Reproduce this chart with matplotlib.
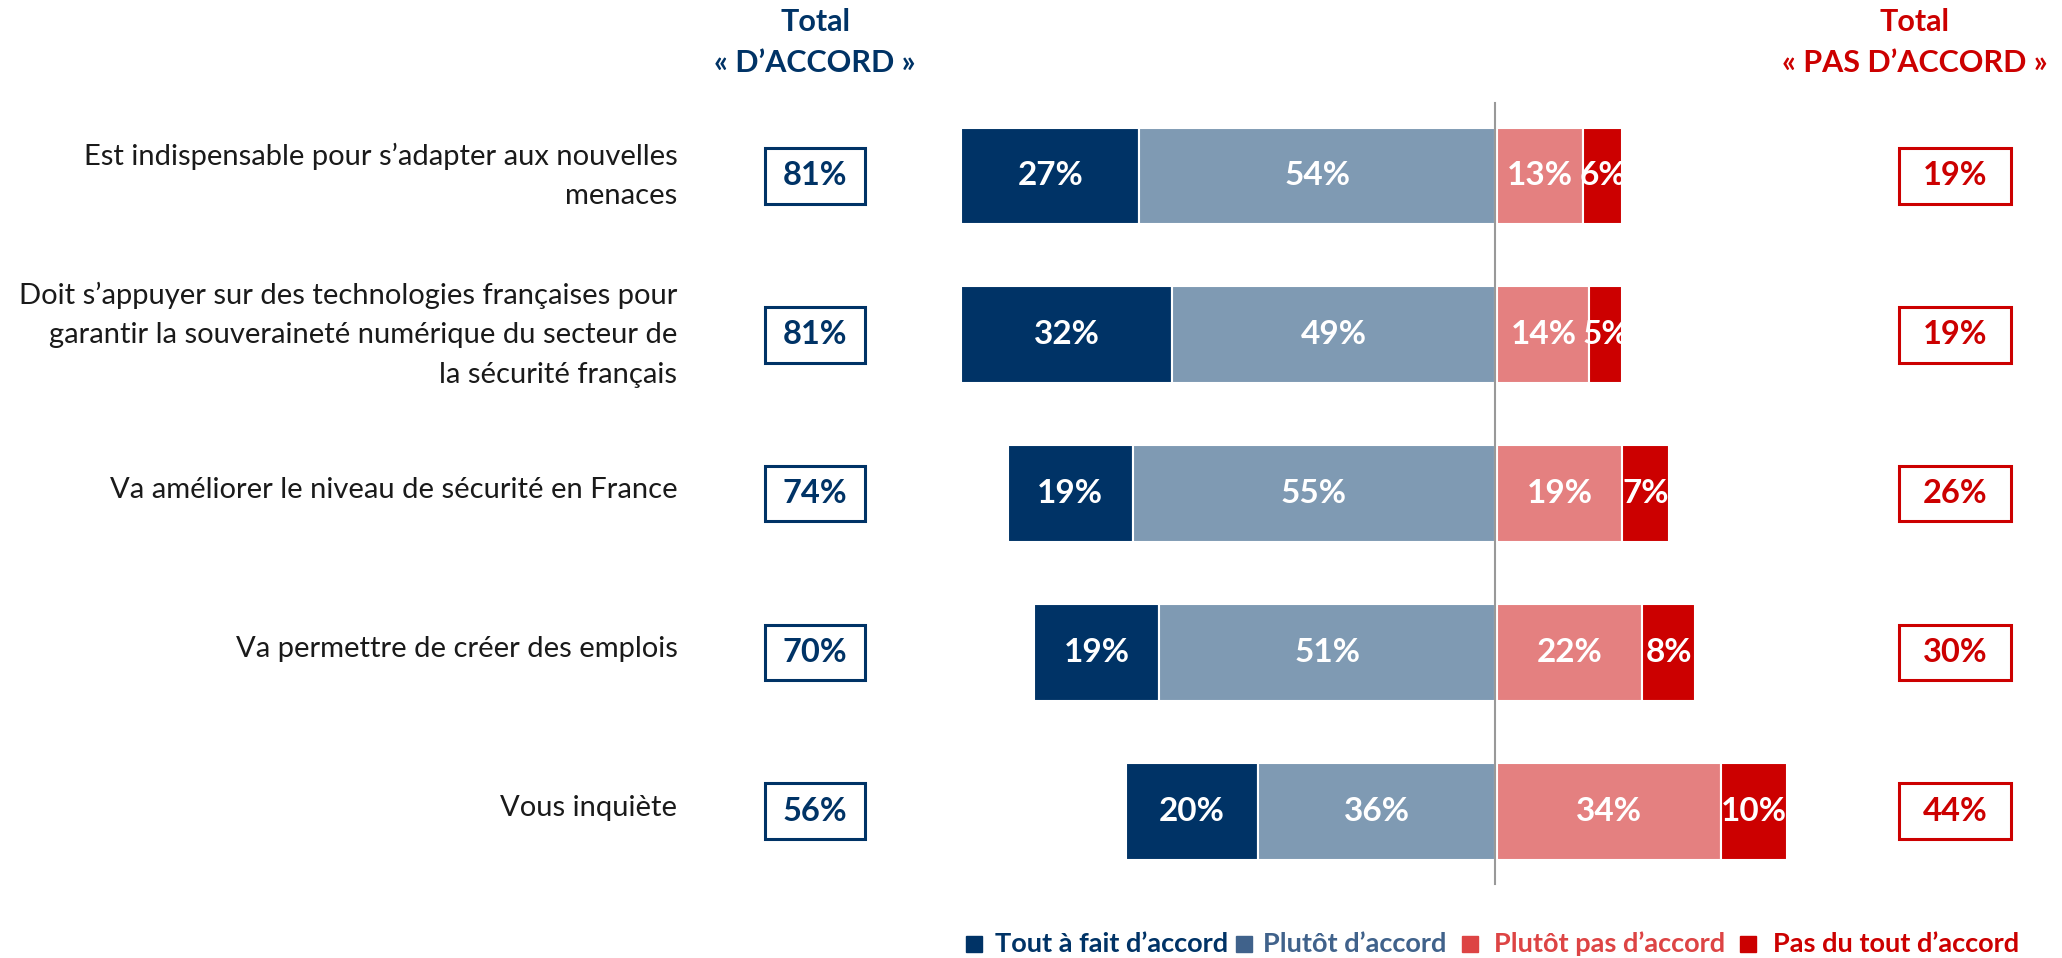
import matplotlib.pyplot as plt
from matplotlib.patches import Rectangle

plt.rcParams['font.family'] = ['Lato', 'DejaVu Sans']

categories = [
    "Est indispensable pour s\u2019adapter aux nouvelles\nmenaces",
    "Doit s\u2019appuyer sur des technologies fran\u00e7aises pour\ngarantir la souverainet\u00e9 num\u00e9rique du secteur de\nla s\u00e9curit\u00e9 fran\u00e7ais",
    "Va am\u00e9liorer le niveau de s\u00e9curit\u00e9 en France",
    "Va permettre de cr\u00e9er des emplois",
    "Vous inqui\u00e8te",
]
tout_a_fait = [27, 32, 19, 19, 20]
plutot = [54, 49, 55, 51, 36]
plutot_pas = [13, 14, 19, 22, 34]
pas_du_tout = [6, 5, 7, 8, 10]
total_accord = [81, 81, 74, 70, 56]
total_pas = [19, 19, 26, 30, 44]
legend_labels = ["Tout \u00e0 fait d\u2019accord", "Plut\u00f4t d\u2019accord",
                 "Plut\u00f4t pas d\u2019accord", "Pas du tout d\u2019accord"]

navy = '#003366'
greyblue = '#7F9AB3'
pink = '#E48080'
red = '#CC0000'
legend_colors = [navy, '#40628B', '#DD4444', red]

fig = plt.figure(figsize=(20.62, 9.58), dpi=100)
ax = fig.add_axes([0, 0, 1, 1])
ax.set_xlim(-226.9, 86.0)
ax.set_ylim(4.924, -1.108)
ax.axis('off')

h = 0.61
gap = 0.3  # small white gap right of the centre line
for i in range(len(categories)):
    left_a = -(tout_a_fait[i] + plutot[i])
    ax.barh(i, tout_a_fait[i], left=left_a, height=h, color=navy, edgecolor='white', linewidth=1.5)
    ax.barh(i, plutot[i], left=-plutot[i], height=h, color=greyblue, edgecolor='white', linewidth=1.5)
    ax.barh(i, plutot_pas[i], left=gap, height=h, color=pink, edgecolor='white', linewidth=1.5)
    ax.barh(i, pas_du_tout[i], left=gap + plutot_pas[i], height=h, color=red, edgecolor='white', linewidth=1.5)

    lbl = dict(color='white', fontsize=24, fontweight='bold', ha='center', va='center')
    ax.text(left_a + tout_a_fait[i] / 2, i, f"{tout_a_fait[i]}%", **lbl)
    ax.text(-plutot[i] / 2, i, f"{plutot[i]}%", **lbl)
    ax.text(gap + plutot_pas[i] / 2, i, f"{plutot_pas[i]}%", **lbl)
    ax.text(gap + plutot_pas[i] + pas_du_tout[i] / 2, i, f"{pas_du_tout[i]}%", **lbl)

    # category label
    off = 0 if i < 2 else -0.02
    ax.text(-124.1, i + off, categories[i], ha='right', va='center', fontsize=21,
            color='#1a1a1a', linespacing=1.65)

    # total boxes
    ax.add_patch(Rectangle((-103.2 - 7.6, i - 0.175), 15.2, 0.35, fill=False,
                           edgecolor=navy, linewidth=2.2))
    ax.text(-103.2, i, f"{total_accord[i]}%", ha='center', va='center',
            fontsize=23.5, fontweight='bold', color=navy)
    ax.add_patch(Rectangle((69.8 - 8.5, i - 0.175), 17.0, 0.35, fill=False,
                           edgecolor=red, linewidth=2.2))
    ax.text(69.8, i, f"{total_pas[i]}%", ha='center', va='center',
            fontsize=23.5, fontweight='bold', color=red)

# center line
ax.plot([0, 0], [-0.46, 4.458], color='#999999', linewidth=1.5, zorder=5)

# headers
ax.text(-103.2, -0.97, "Total", ha='center', va='center', fontsize=22, fontweight='bold', color=navy)
ax.text(-103.2, -0.712, "\u00ab D\u2019ACCORD \u00bb", ha='center', va='center', fontsize=22,
        fontweight='bold', color=navy)
ax.text(63.6, -0.97, "Total", ha='center', va='center', fontsize=22, fontweight='bold', color=red)
ax.text(63.6, -0.712, "\u00ab PAS D\u2019ACCORD \u00bb", ha='center', va='center', fontsize=22,
        fontweight='bold', color=red)

# legend
sq_x = [-79.1, -38.2, -3.8, 38.4]
txt_x = [-75.9, -35.3, -0.2, 42.2]
for k in range(4):
    ax.plot(sq_x[k], 4.836, marker='s', markersize=11, color=legend_colors[k], clip_on=False)
    ax.text(txt_x[k], 4.836, legend_labels[k], ha='left', va='center', fontsize=19.5,
            fontweight='bold', color=legend_colors[k])

fig.savefig('out.png', dpi=100)
